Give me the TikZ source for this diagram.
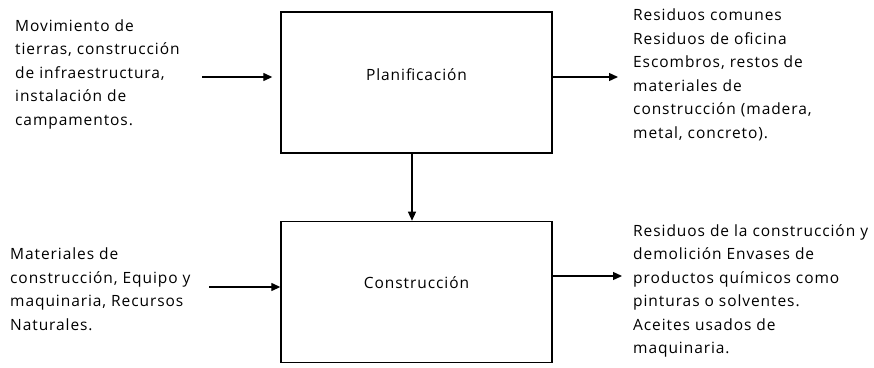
\documentclass[tikz,border=0pt]{standalone}
\usepackage{fontspec}
\setmainfont[LetterSpace=6]{Open Sans}
\usetikzlibrary{arrows.meta, positioning}
\tikzset{
    boxnode/.style = {draw, rectangle, line width=1.4pt, minimum width=271pt, minimum height=141pt, inner sep=0pt},
    textnode/.style = {draw=none, fill=none, rectangle, inner sep=0pt, anchor=west, align=left,
      font=\fontsize{15.5}{23.5}\selectfont},
    labeltext/.style = {font=\fontsize{15.5}{23.5}\selectfont},
    connect/.style = {black, line width=1.3pt, -{Triangle[length=9pt,width=8pt]}}
}

\begin{document}
\begin{tikzpicture}[x=1pt, y=-1pt]
\useasboundingbox (0,0) rectangle (874,367);
\node [name=plan, boxnode, label={[labeltext, yshift=8pt]center:Planificación}] at (416.5,82.5) {};
\node [name=cons, boxnode, below=67pt of plan, label={[labeltext, yshift=9pt]center:Construcción}] {};
\node [name=inplan, textnode] at (15,74) {Movimiento de\\tierras, construcción\\de infraestructura,\\instalación de\\campamentos.};
\node [name=outplan, textnode] at (633,75) {Residuos comunes\\Residuos de oficina\\Escombros, restos de\\materiales de\\construcción (madera,\\metal, concreto).};
\node [name=incons, textnode] at (10,289) {Materiales de\\construcción, Equipo y\\maquinaria, Recursos\\Naturales.};
\node [name=outcons, textnode] at (633,291) {Residuos de la construcción y\\demolición Envases de\\productos químicos como\\pinturas o solventes.\\Aceites usados de\\maquinaria.};
% free arrow ends
\coordinate (inplanend) at (202,77);
\coordinate (outplanend) at (618,77);
\coordinate (inconsend) at (209,287);
\coordinate (outconsend) at (622,276);
\draw [connect] (inplanend) -- ([xshift=-8pt]plan.west |- inplanend);
\draw [connect] (plan.east |- outplanend) -- (outplanend);
\draw [connect] (inconsend) -- (cons.west |- inconsend);
\draw [connect] (cons.east |- outconsend) -- (outconsend);
\draw [connect] ([xshift=-4.5pt]plan.south) -- ([xshift=-4.5pt]cons.north);
\end{tikzpicture}
\end{document}
